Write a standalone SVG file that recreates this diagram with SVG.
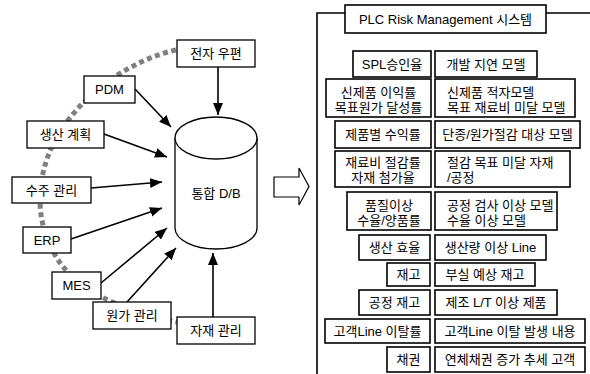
<svg xmlns="http://www.w3.org/2000/svg" width="590" height="374" viewBox="0 0 590 374">
<defs>
<marker id="ah" markerUnits="userSpaceOnUse" markerWidth="13" markerHeight="10" refX="12" refY="5" orient="auto">
<path d="M0,0 L12,5 L0,10 z" fill="#000"/>
</marker>
<style>
text{font-family:"Liberation Sans","Noto Sans CJK KR",sans-serif;font-size:13px;fill:#000}
.c{text-anchor:middle}
.b{fill:#fff;stroke:#000;stroke-width:1.3}
.r{fill:#fff;stroke:#000;stroke-width:1.6}
.ln{stroke:#000;stroke-width:1.6;fill:none}
.arr{stroke:#000;stroke-width:1.6;fill:none;marker-end:url(#ah)}
</style>
</defs>
<rect width="590" height="374" fill="#fff"/>
<path id="arc" d="M176,50 C130,60 80,95 55,140 C35,180 35,220 55,255 C75,290 120,310 177,322" fill="none" stroke="#808080" stroke-width="5" stroke-dasharray="5 3.5"/>
<g id="connectors">
<line class="arr" x1="218" y1="67" x2="218" y2="115"/>
<line class="arr" x1="135" y1="89" x2="171" y2="127"/>
<line class="arr" x1="104" y1="134" x2="167" y2="157"/>
<line class="arr" x1="91" y1="188" x2="162" y2="182"/>
<line class="arr" x1="71" y1="239" x2="162" y2="208"/>
<line class="arr" x1="101" y1="283" x2="167" y2="228"/>
<line class="arr" x1="127" y1="302" x2="176" y2="248"/>
<line class="arr" x1="213" y1="317" x2="213" y2="253"/>
</g>
<g id="db">
<path d="M175,138 L175,228 A41,21 0 0 0 257,228 L257,138" fill="#fff" stroke="#000" stroke-width="1.3"/>
<ellipse cx="216" cy="138" rx="41" ry="21" fill="#fff" stroke="#000" stroke-width="1.3"/>
<text class="c" x="216" y="198">통합 D/B</text>
</g>
<g id="email"><rect class="b" x="177" y="40" width="78" height="27"/><text class="c" x="216" y="58">전자 우편</text></g>
<g id="pdm"><rect class="b" x="84" y="76" width="51" height="27"/><text class="c" x="109.5" y="94">PDM</text></g>
<g id="plan"><rect class="b" x="27" y="121" width="77" height="27"/><text class="c" x="65.5" y="139">생산 계획</text></g>
<g id="order"><rect class="b" x="12" y="177" width="79" height="26"/><text class="c" x="51.5" y="195">수주 관리</text></g>
<g id="erp"><rect class="b" x="23" y="227" width="48" height="26"/><text class="c" x="47" y="245">ERP</text></g>
<g id="mes"><rect class="b" x="52" y="272" width="49" height="27"/><text class="c" x="76.5" y="290">MES</text></g>
<g id="cost"><rect class="b" x="93" y="302" width="78" height="27"/><text class="c" x="132" y="320">원가 관리</text></g>
<g id="material"><rect class="b" x="177" y="317" width="78" height="27"/><text class="c" x="216" y="335">자재 관리</text></g>
<g id="bigarrow"><path d="M274,177 L299,177 L299,168 L309,186.5 L299,205 L299,197 L274,197 z" fill="#fff" stroke="#000" stroke-width="1.2"/></g>
<g id="panel">
<path class="ln" d="M345,13 L317,13 L317,374 M546,13 L590,13"/>
<rect class="r" x="345" y="5" width="201" height="28"/>
<text class="c" x="445.5" y="24">PLC Risk Management 시스템</text>
</g>
<g id="row1"><rect class="r" x="353" y="51" width="78" height="26"/><text class="c" x="392" y="69">SPL승인율</text>
<rect class="r" x="435" y="51" width="102" height="26"/><text class="c" x="486" y="69">개발 지연 모델</text></g>
<g id="row2"><rect class="r" x="326" y="79" width="105" height="38"/><text class="c" x="378.5" y="97">신제품 이익률</text><text class="c" x="378.5" y="112">목표원가 달성률</text>
<rect class="r" x="435" y="79" width="140" height="38"/><text x="447" y="97">신제품 적자모델</text><text x="447" y="112">목표 재료비 미달 모델</text></g>
<g id="row3"><rect class="r" x="335" y="121" width="96" height="27"/><text class="c" x="383" y="139">제품별 수익률</text>
<rect class="r" x="435" y="121" width="145" height="27"/><text class="c" x="507.5" y="139">단종/원가절감 대상 모델</text></g>
<g id="row4"><rect class="r" x="335" y="151" width="96" height="36"/><text class="c" x="383" y="167">재료비 절감률</text><text class="c" x="383" y="182">자재 첨가율</text>
<rect class="r" x="435" y="151" width="135" height="36"/><text x="447" y="167">절감 목표 미달 자재</text><text x="447" y="182">/공정</text></g>
<g id="row5"><rect class="r" x="347" y="192" width="84" height="38"/><text class="c" x="389" y="210">품질이상</text><text class="c" x="389" y="225">수율/양품률</text>
<rect class="r" x="435" y="192" width="122" height="38"/><text x="447" y="210">공정 검사 이상 모델</text><text x="447" y="225">수율 이상 모델</text></g>
<g id="row6"><rect class="r" x="359" y="235" width="71" height="25"/><text class="c" x="394.5" y="252">생산 효율</text>
<rect class="r" x="435" y="235" width="111" height="25"/><text class="c" x="490.5" y="252">생산량 이상 Line</text></g>
<g id="row7"><rect class="r" x="387" y="263" width="43" height="23"/><text class="c" x="408.5" y="279">재고</text>
<rect class="r" x="435" y="263" width="100" height="23"/><text class="c" x="485" y="279">부실 예상 재고</text></g>
<g id="row8"><rect class="r" x="359" y="290" width="71" height="25"/><text class="c" x="394.5" y="307">공정 재고</text>
<rect class="r" x="435" y="290" width="122" height="25"/><text class="c" x="496" y="307">제조 L/T 이상 제품</text></g>
<g id="row9"><rect class="r" x="325" y="319" width="105" height="24"/><text class="c" x="377.5" y="336">고객Line 이탈률</text>
<rect class="r" x="435" y="319" width="150" height="24"/><text class="c" x="510" y="336">고객Line 이탈 발생 내용</text></g>
<g id="row10"><rect class="r" x="387" y="347" width="43" height="25"/><text class="c" x="408.5" y="364">채권</text>
<rect class="r" x="435" y="347" width="150" height="25"/><text class="c" x="510" y="364">연체채권 증가 추세 고객</text></g>
</svg>
